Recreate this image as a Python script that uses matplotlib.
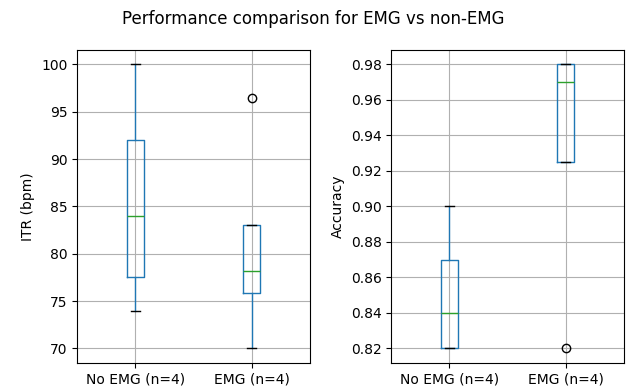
import matplotlib
matplotlib.use("Agg")
import matplotlib.pyplot as plt

# Valeurs (4 sujets par groupe)
labels = ["No EMG (n=4)", "EMG (n=4)"]
itr_no_emg = [74.0, 78.67, 89.33, 100.0]
itr_emg = [70.0, 77.85, 78.55, 96.4]
acc_no_emg = [0.82, 0.82, 0.86, 0.90]
acc_emg = [0.82, 0.96, 0.98, 0.98]

# Style des boîtes à la manière de pandas
styles = dict(
    boxprops=dict(color="C0"),
    whiskerprops=dict(color="C0"),
    medianprops=dict(color="C2"),
    capprops=dict(color="k"),
)

fig = plt.figure(figsize=(6.27, 3.92), dpi=100)
ax1 = fig.add_axes([0.123, 0.075, 0.371, 0.797])
ax2 = fig.add_axes([0.624, 0.075, 0.371, 0.797])

ax1.boxplot([itr_no_emg, itr_emg], tick_labels=labels, **styles)
ax1.set_ylabel("ITR (bpm)")
ax1.grid(True)

ax2.boxplot([acc_no_emg, acc_emg], tick_labels=labels, **styles)
ax2.set_ylabel("Accuracy")
ax2.grid(True)

fig.suptitle("Performance comparison for EMG vs non-EMG", y=0.975)
fig.savefig("out.png", dpi=100)
